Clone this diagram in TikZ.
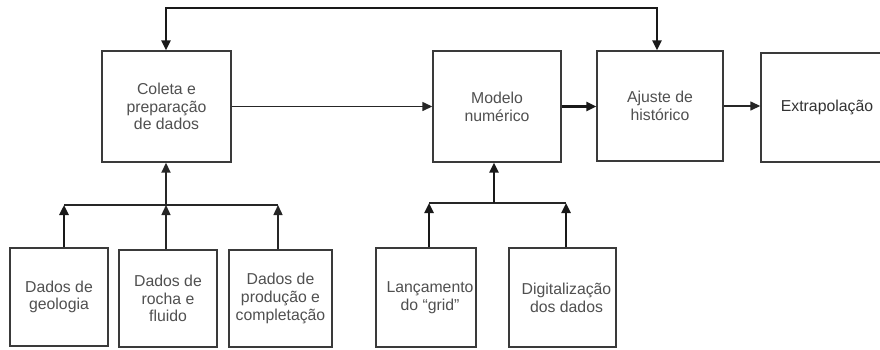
\documentclass[tikz,border=0pt]{standalone}
\usepackage{fontspec}
\setmainfont{Liberation Sans}
\usetikzlibrary{arrows.meta,calc}
\definecolor{txt}{HTML}{505050}
\definecolor{frm}{HTML}{3A3A3A}
\begin{document}
\begin{tikzpicture}[x=1pt,y=-1pt,
  box/.style={draw=frm,line width=1.4pt,inner sep=0pt,align=center,text=txt,
    font=\fontsize{15.8}{17.8}\selectfont},
  thin/.style={draw=black!85,line width=1.4pt},
  thick/.style={draw=black!90,line width=2.4pt},
  tip/.style={-{Triangle[length=10pt,width=9pt]}}]
\clip (0,0) rectangle (880,349);
\fill[white] (0,0) rectangle (880,349);
% top row
\node[box,minimum width=129pt,minimum height=111pt] (col) at (166.5,106.5) {Coleta e\\preparação\\de dados};
\node[box,minimum width=128pt,minimum height=111pt] (mod) at (497,106.5) {Modelo\\numérico};
\node[box,minimum width=126pt,minimum height=110pt] (aju) at (660,106) {Ajuste de\\histórico};
\node[box,minimum width=139pt,minimum height=109pt,text=black!80] (ext) at (830.5,107.5) {\hspace*{-7pt}Extrapolação};
% bottom row
\node[box,minimum width=98pt,minimum height=98pt] (geo) at (59,297) {Dados de\\geologia};
\node[box,minimum width=98pt,minimum height=97pt] (roc) at (168,298.5) {Dados de\\rocha e\\fluido};
\node[box,minimum width=103pt,minimum height=97pt] (pro) at (280.5,298.5) {Dados de\\produção e\\completação};
\node[box,minimum width=100pt,minimum height=99pt] (lan) at (426,297.5) {\hspace*{8pt}Lançamento\\\hspace*{8pt}do “grid”};
\node[box,minimum width=107pt,minimum height=99pt] (dig) at (562.5,297.5) {\hspace*{8pt}Digitalização\\\hspace*{8pt}dos dados};
% junction coordinates
\coordinate (jl) at (166,205);
\coordinate (jr) at (494,203);
\coordinate (top) at (400,8);
% top feedback loop
\draw[thick,{Triangle[length=10pt,width=9pt]}-{Triangle[length=10pt,width=9pt]}]
  ([xshift=-0.5pt]col.north) -- ([xshift=-0.5pt]col.north |- top) -| ([xshift=-3pt]aju.north);
% horizontal flow
\draw[thin,tip] (col.east) -- (mod.west |- col.east);
\draw[thick,tip] (mod.east) -- (aju.west |- mod.east);
\draw[thin,tip] (aju.east) -- (ext.west |- aju.east);
% left tree
\draw[thin] ([xshift=5pt]geo.north |- jl) -- ([xshift=-2.5pt]pro.north |- jl);
\draw[thin,line width=1.8pt,tip] (jl) -- (jl |- col.south);
\draw[thick,tip] ([xshift=5pt]geo.north) -- ([xshift=5pt]geo.north |- jl);
\draw[thin,tip] ([xshift=-2pt]roc.north) -- ([xshift=-2pt]roc.north |- jl);
\draw[thin,tip] ([xshift=-2.5pt]pro.north) -- ([xshift=-2.5pt]pro.north |- jl);
% right tree
\draw[thin] ([xshift=3pt]lan.north |- jr) -- ([xshift=3.5pt]dig.north |- jr);
\draw[thick,tip] (jr) -- (jr |- mod.south);
\draw[thick,tip] ([xshift=3pt]lan.north) -- ([xshift=3pt]lan.north |- jr);
\draw[thick,tip] ([xshift=3.5pt]dig.north) -- ([xshift=3.5pt]dig.north |- jr);
\end{tikzpicture}
\end{document}
